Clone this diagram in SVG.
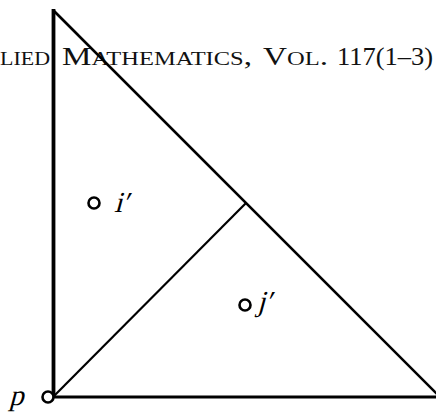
<svg xmlns="http://www.w3.org/2000/svg" width="436" height="415" viewBox="0 0 436 415">
<style>
.hdr{font-family:"Liberation Serif","DejaVu Serif",serif;font-size:25px;fill:#111}
.sc{font-size:18.5px}
.lbl{font-family:"Liberation Serif","DejaVu Serif",serif;font-size:29px;fill:#000}
.edge{stroke:#000;fill:none;stroke-linecap:butt}
.pt{fill:#fff;stroke:#000;stroke-width:2.6}
</style>
<rect width="436" height="415" fill="#fff"/>
<g id="header">
<text class="hdr" x="0" y="65" textLength="50" lengthAdjust="spacingAndGlyphs"><tspan class="sc">LIED</tspan></text>
<text class="hdr" x="62" y="65" textLength="190" lengthAdjust="spacingAndGlyphs">M<tspan class="sc">ATHEMATICS</tspan>,</text>
<text class="hdr" x="263" y="65" textLength="65" lengthAdjust="spacingAndGlyphs">V<tspan class="sc">OL</tspan>.</text>
<text class="hdr" x="337" y="65" textLength="96" lengthAdjust="spacingAndGlyphs">117(1–3)</text>
</g>
<g id="connectors">
<line class="edge" x1="53.5" y1="9" x2="53.5" y2="397" stroke-width="3.8"/>
<line class="edge" x1="53" y1="10" x2="442" y2="399" stroke-width="2.6"/>
<line class="edge" x1="50" y1="397" x2="436" y2="397" stroke-width="3.2"/>
<line class="edge" x1="53" y1="397" x2="246" y2="203" stroke-width="2.2"/>
</g>
<g id="p">
<circle class="pt" cx="48" cy="397" r="5.5"/>
<text class="lbl" transform="translate(9 405) skewX(-15)">p</text>
</g>
<g id="i">
<circle class="pt" cx="94" cy="203" r="5.5"/>
<text class="lbl" transform="translate(114 212) skewX(-15)">i′</text>
</g>
<g id="j">
<circle class="pt" cx="245" cy="305" r="5.5"/>
<text class="lbl" transform="translate(257 311) skewX(-15)">j′</text>
</g>
</svg>
